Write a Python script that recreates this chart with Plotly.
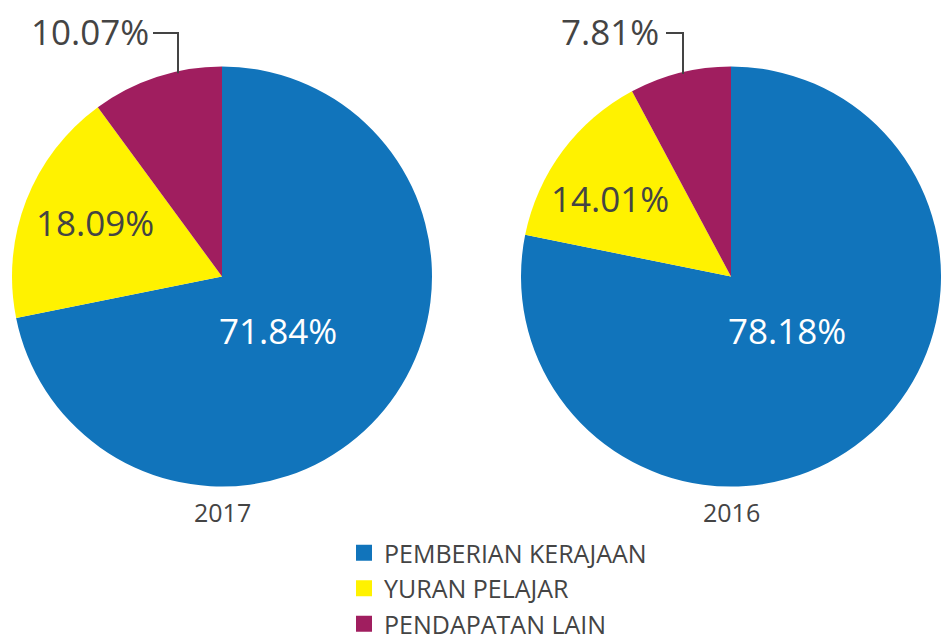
import plotly.graph_objects as go

categories = ["PEMBERIAN KERAJAAN", "YURAN PELAJAR", "PENDAPATAN LAIN"]
years = ["2017", "2016"]
values_2017 = [71.84, 18.09, 10.07]
values_2016 = [78.18, 14.01, 7.81]
colors = ["#1174BB", "#FFF200", "#A01E5F"]

W, H = 941, 641
FONT = "Open Sans"
TXT = "#444444"

def px_x(x):
    return x / W

def px_y(y):
    return 1 - y / H

R = 210
centers = [(222, 276.5), (731, 276.5)]
series = [values_2017, values_2016]

fig = go.Figure()
for (cx, cy), vals, yr in zip(centers, series, years):
    fig.add_trace(go.Pie(
        labels=categories, values=vals, sort=False, direction="clockwise",
        rotation=0, marker=dict(colors=colors, line=dict(width=0)),
        textinfo="none", hoverinfo="label+percent", showlegend=False,
        domain=dict(x=[px_x(cx - R), min(1, px_x(cx + R))],
                    y=[px_y(cy + R), px_y(cy - R)]),
    ))

# legend via square marker dummies
for i, (c, col) in enumerate(zip(categories, colors)):
    fig.add_trace(go.Scatter(
        x=[None], y=[None], mode="markers", name=c, legendgroup=c,
        marker=dict(symbol="square", size=19, color=col),
    ))

annotations = []
shapes = []
layouts = [
    dict(blue=(278, 330), yellow=(95, 222), purple=(90, 31), lead_x=178, lead_start=153),
    dict(blue=(787, 330), yellow=(610, 198), purple=(610, 31), lead_x=683, lead_start=666),
]
for (cx, cy), vals, yr, L in zip(centers, series, years, layouts):
    for key, v, col in (("blue", vals[0], "white"), ("yellow", vals[1], TXT), ("purple", vals[2], TXT)):
        annotations.append(dict(x=px_x(L[key][0]), y=px_y(L[key][1]), xref="paper", yref="paper",
                                xanchor="center", yanchor="middle",
                                text=f"{v:.2f}%", showarrow=False,
                                font=dict(family=FONT, size=35, color=col)))
    annotations.append(dict(x=px_x(cx), y=px_y(512), xref="paper", yref="paper",
                            xanchor="center", yanchor="middle",
                            text=yr, showarrow=False,
                            font=dict(family=FONT, size=25, color=TXT)))
    lx = L["lead_x"]
    ytop = cy - (R ** 2 - (lx - cx) ** 2) ** 0.5
    shapes.append(dict(type="path", xref="paper", yref="paper",
                       path=f"M{px_x(L['lead_start'])},{px_y(33)} L{px_x(lx)},{px_y(33)} L{px_x(lx)},{px_y(ytop + 2)}",
                       line=dict(color=TXT, width=2)))

fig.update_layout(
    width=W, height=H, margin=dict(l=0, r=0, t=0, b=0, autoexpand=False),
    paper_bgcolor="white", plot_bgcolor="white",
    xaxis=dict(visible=False), yaxis=dict(visible=False),
    annotations=annotations, shapes=shapes,
    legend=dict(x=px_x(344), y=px_y(530), xanchor="left", yanchor="top",
                font=dict(family=FONT, size=25, color=TXT),
                tracegroupgap=0, itemsizing="trace", bgcolor="rgba(0,0,0,0)"),
)

fig.write_html("out.html", config={"displayModeBar": False},
               post_script="document.body.style.margin='0';document.body.style.overflow='hidden';")
